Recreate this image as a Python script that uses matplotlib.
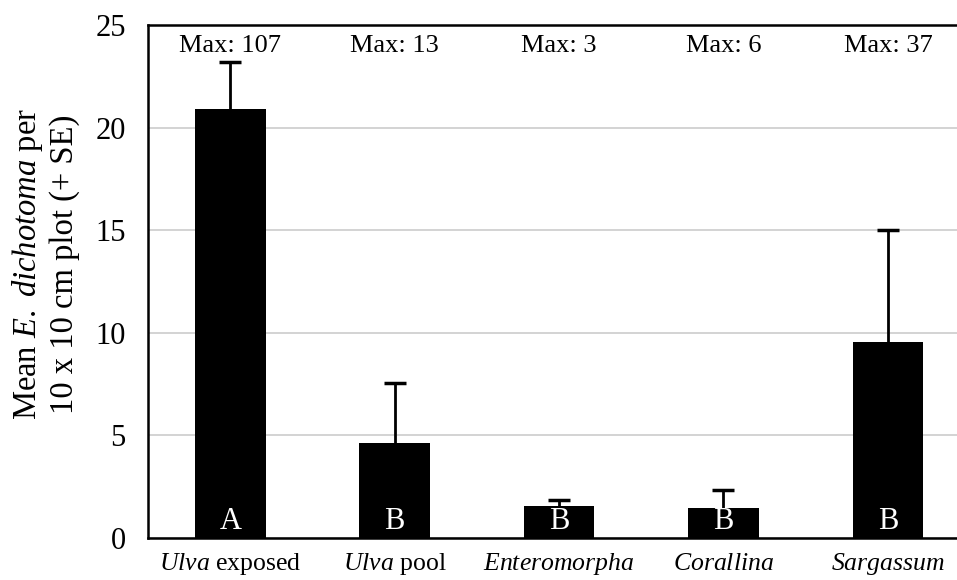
import matplotlib.pyplot as plt
import numpy as np

# data
genus = ["Ulva", "Ulva", "Enteromorpha", "Corallina", "Sargassum"]
suffix = [" exposed", " pool", "", "", ""]
means = [20.9, 4.65, 1.55, 1.45, 9.55]
se = [2.3, 2.9, 0.3, 0.9, 5.45]
max_labels = ["Max: 107", "Max: 13", "Max: 3", "Max: 6", "Max: 37"]
groups = ["A", "B", "B", "B", "B"]

plt.rcParams['font.family'] = ['Liberation Serif', 'DejaVu Serif']
plt.rcParams['mathtext.fontset'] = 'custom'
plt.rcParams['mathtext.rm'] = 'Liberation Serif'
plt.rcParams['mathtext.it'] = 'Liberation Serif:italic'

fig = plt.figure(figsize=(9.57, 5.8), dpi=100)
ax = fig.add_axes([0.1547, 0.0724, 0.859, 0.8845])

x = np.arange(len(means))
ax.bar(x, means, width=0.43, color='black', zorder=3)
eb = ax.errorbar(x, means, yerr=[np.zeros(len(se)), se], fmt='none', ecolor='black',
                 elinewidth=2, capsize=8, capthick=2.5, zorder=4)
# only the upper cap
eb[1][0].set_visible(False)

for i in range(len(means)):
    ax.text(x[i], 24.0, max_labels[i], ha='center', va='center', fontsize=19)
    ax.text(x[i], 0.8, groups[i], ha='center', va='center', fontsize=22,
            color='white', zorder=5)

ax.set_xlim(-0.5, 4.5)
ax.set_ylim(0, 25)
ax.set_yticks([0, 5, 10, 15, 20, 25])
ax.set_yticklabels(["0", "5", "10", "15", "20", "25"], fontsize=22)
ax.tick_params(axis='y', length=0, pad=16)
ax.tick_params(axis='x', length=0, pad=23)
ax.set_xticks(x)
ax.set_xticklabels([r"$\mathit{" + g + "}$" + s for g, s in zip(genus, suffix)],
                   fontsize=18.5)
for lbl in ax.get_xticklabels():
    lbl.set_verticalalignment('baseline')

ax.yaxis.grid(True, color='#cccccc', linewidth=1.2, zorder=0)
ax.set_axisbelow(True)
ax.spines['right'].set_visible(False)
for s in ['left', 'top', 'bottom']:
    ax.spines[s].set_linewidth(1.8)

fig.text(45 / 957, 1 - 264 / 580,
         "Mean $\\mathit{E.\\ dichotoma}$ per\n10 x 10 cm plot (+ SE)",
         rotation=90, ha='center', va='center', fontsize=23.5,
         linespacing=1.15, multialignment='center')

fig.savefig("out.png", dpi=100)
